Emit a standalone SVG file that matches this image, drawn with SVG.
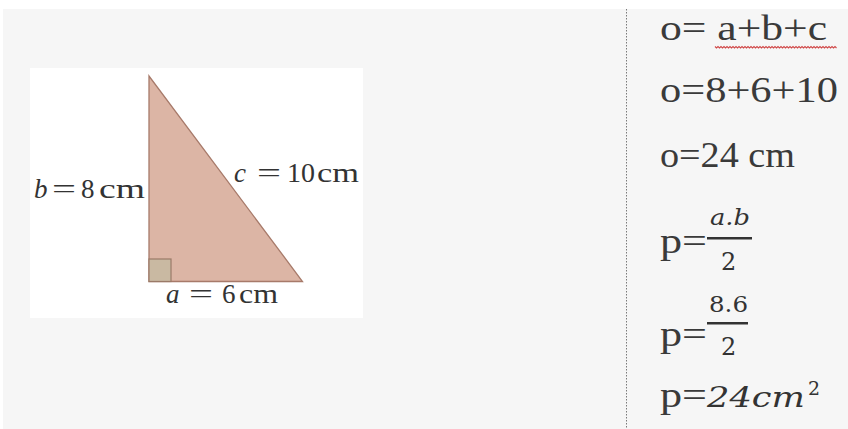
<svg xmlns="http://www.w3.org/2000/svg" width="848" height="429" viewBox="0 0 848 429">
  <style>
    .lbl { font-family: "Liberation Serif", "DejaVu Serif", serif; font-size: 27px; fill: #333; }
    .it { font-style: italic; }
    .eq { font-family: "Liberation Serif", "DejaVu Serif", serif; font-size: 35px; fill: #3a3a3a; }
    .math { font-family: "DejaVu Serif", "Liberation Serif", serif; fill: #333; }
  </style>
  <rect x="0" y="0" width="848" height="429" fill="#ffffff"/>
  <rect x="3" y="9" width="845" height="420" fill="#f6f6f6"/>
  <line x1="626.5" y1="9" x2="626.5" y2="429" stroke="#7a7a7a" stroke-width="1" stroke-dasharray="1.5 1.5"/>

  <g id="figure">
    <rect x="30" y="68" width="333" height="250" fill="#ffffff"/>
    <polygon points="149,76 149,281.5 302.5,281.5" fill="#dcb5a5" stroke="#a77a6a" stroke-width="1.3" stroke-linejoin="miter"/>
    <rect x="149" y="259" width="22" height="22.5" fill="#c9b9a2" stroke="#9a7a68" stroke-width="1.2"/>
  </g>

  <g id="label-b">
    <text class="lbl it" x="34" y="198">b</text>
    <text class="lbl" x="52" y="198" textLength="24" lengthAdjust="spacingAndGlyphs">=</text>
    <text class="lbl" x="81" y="198">8</text>
    <text class="lbl" x="99" y="198" textLength="46" lengthAdjust="spacingAndGlyphs">cm</text>
  </g>
  <g id="label-c">
    <text class="lbl it" x="234" y="182">c</text>
    <text class="lbl" x="257" y="182" textLength="24" lengthAdjust="spacingAndGlyphs">=</text>
    <text class="lbl" x="287" y="182" textLength="28" lengthAdjust="spacingAndGlyphs">10</text>
    <text class="lbl" x="317" y="182" textLength="42" lengthAdjust="spacingAndGlyphs">cm</text>
  </g>
  <g id="label-a">
    <text class="lbl it" x="166" y="303">a</text>
    <text class="lbl" x="189" y="303" textLength="24" lengthAdjust="spacingAndGlyphs">=</text>
    <text class="lbl" x="222" y="303">6</text>
    <text class="lbl" x="239" y="303" textLength="39" lengthAdjust="spacingAndGlyphs">cm</text>
  </g>

  <g id="formula-1">
    <text class="eq" x="660" y="40" textLength="167" lengthAdjust="spacingAndGlyphs">o= a+b+c</text>
    <path d="M715,46.5 l1.5,1.5 l1.5,-1.5 l1.5,1.5 l1.5,-1.5 l1.5,1.5 l1.5,-1.5 l1.5,1.5 l1.5,-1.5 l1.5,1.5 l1.5,-1.5 l1.5,1.5 l1.5,-1.5 l1.5,1.5 l1.5,-1.5 l1.5,1.5 l1.5,-1.5 l1.5,1.5 l1.5,-1.5 l1.5,1.5 l1.5,-1.5 l1.5,1.5 l1.5,-1.5 l1.5,1.5 l1.5,-1.5 l1.5,1.5 l1.5,-1.5 l1.5,1.5 l1.5,-1.5 l1.5,1.5 l1.5,-1.5 l1.5,1.5 l1.5,-1.5 l1.5,1.5 l1.5,-1.5 l1.5,1.5 l1.5,-1.5 l1.5,1.5 l1.5,-1.5 l1.5,1.5 l1.5,-1.5 l1.5,1.5 l1.5,-1.5 l1.5,1.5 l1.5,-1.5 l1.5,1.5 l1.5,-1.5 l1.5,1.5 l1.5,-1.5 l1.5,1.5 l1.5,-1.5 l1.5,1.5 l1.5,-1.5 l1.5,1.5 l1.5,-1.5 l1.5,1.5 l1.5,-1.5 l1.5,1.5 l1.5,-1.5 l1.5,1.5 l1.5,-1.5 l1.5,1.5 l1.5,-1.5 l1.5,1.5 l1.5,-1.5 l1.5,1.5 l1.5,-1.5 l1.5,1.5 l1.5,-1.5 l1.5,1.5 l1.5,-1.5 l1.5,1.5 l1.5,-1.5 l1.5,1.5 l1.5,-1.5 l1.5,1.5 l1.5,-1.5 l1.5,1.5 l1.5,-1.5 l1.5,1.5 l1.5,-1.5 l1.5,1.5" fill="none" stroke="#d04848" stroke-width="1.1"/>
  </g>
  <g id="formula-2">
    <text class="eq" x="660" y="102" textLength="178" lengthAdjust="spacingAndGlyphs">o=8+6+10</text>
  </g>
  <g id="formula-3">
    <text class="eq" x="660" y="167" textLength="135" lengthAdjust="spacingAndGlyphs">o=24 cm</text>
  </g>
  <g id="formula-4">
    <text class="eq" x="660" y="253" textLength="47" lengthAdjust="spacingAndGlyphs">p=</text>
    <text class="math" x="710" y="225" font-size="22" font-style="italic" textLength="40" lengthAdjust="spacingAndGlyphs">a.b</text>
    <rect x="707" y="237" width="45" height="2.5" fill="#333"/>
    <text class="math" x="721" y="270" font-size="24">2</text>
  </g>
  <g id="formula-5">
    <text class="eq" x="660" y="346" textLength="47" lengthAdjust="spacingAndGlyphs">p=</text>
    <text class="math" x="709" y="312" font-size="23" textLength="39" lengthAdjust="spacingAndGlyphs">8.6</text>
    <rect x="707" y="322" width="41" height="2.5" fill="#333"/>
    <text class="math" x="721" y="355" font-size="24">2</text>
  </g>
  <g id="formula-6">
    <text class="eq" x="660" y="407" textLength="47" lengthAdjust="spacingAndGlyphs">p=</text>
    <text class="math" x="707" y="407" font-size="27" font-style="italic" textLength="98" lengthAdjust="spacingAndGlyphs">24cm</text>
    <text class="math" x="808" y="395" font-size="19">2</text>
  </g>
</svg>
